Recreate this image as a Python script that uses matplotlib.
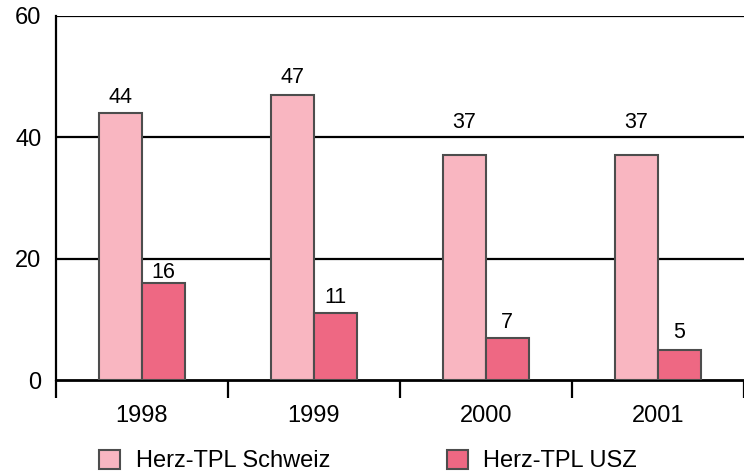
import numpy as np
import matplotlib.pyplot as plt
from matplotlib.patches import Patch

years = ['1998', '1999', '2000', '2001']
schweiz = [44, 47, 37, 37]
usz = [16, 11, 7, 5]
series_names = ['Herz-TPL Schweiz', 'Herz-TPL USZ']
# where the value labels sit (data units)
schweiz_label_y = [46.6, 49.8, 42.4, 42.4]
usz_label_y = [17.8, 13.7, 9.5, 7.8]

col_schweiz = '#F9B6C1'
col_usz = '#EE6883'
edge = '#4D4D4D'

plt.rcParams['font.family'] = ['Liberation Sans', 'DejaVu Sans']

fig = plt.figure(figsize=(7.44, 4.73), dpi=100)
ax = fig.add_axes([55.5 / 744, 1 - 380.3 / 473, 1 - 55.5 / 744, (380.3 - 15.7) / 473])

x = np.arange(len(years))
w = 0.25
ax.bar(x - w / 2, schweiz, w, color=col_schweiz, edgecolor=edge, linewidth=1.5, zorder=3)
ax.bar(x + w / 2, usz, w, color=col_usz, edgecolor=edge, linewidth=1.5, zorder=3)

for i in range(len(years)):
    ax.text(x[i] - w / 2, schweiz_label_y[i], str(schweiz[i]), ha='center', va='center', fontsize=15.5)
    ax.text(x[i] + w / 2, usz_label_y[i], str(usz[i]), ha='center', va='center', fontsize=15.5)

ax.set_ylim(0, 60)
ax.set_xlim(-0.5, 3.457)
ax.set_yticks([0, 20, 40, 60])
ax.tick_params(axis='y', length=0, labelsize=17, pad=10)
for yv in [20, 40, 60]:
    ax.axhline(yv, color='black', linewidth=1.6, zorder=1)

# year labels between ticks at group boundaries
ax.set_xticks(np.arange(-0.5, 4, 1.0))
ax.set_xticklabels([])
ax.set_xticks(x, minor=True)
ax.set_xticklabels(years, minor=True)
ax.tick_params(axis='x', which='major', length=13, width=1.6, direction='out')
ax.tick_params(axis='x', which='minor', length=0, labelsize=17, pad=18)

ax.spines['top'].set_visible(False)
ax.spines['right'].set_visible(False)
ax.spines['left'].set_linewidth(1.6)
ax.spines['bottom'].set_linewidth(2)

handles = [Patch(facecolor=col_schweiz, edgecolor=edge, linewidth=1.5),
           Patch(facecolor=col_usz, edgecolor=edge, linewidth=1.5)]
fig.legend(handles, series_names, loc='center left', bbox_to_anchor=(99 / 744, 1 - 461 / 473),
           ncol=2, frameon=False, fontsize=17, handlelength=0.9, handleheight=0.9,
           handletextpad=0.65, columnspacing=4.95, borderpad=0, borderaxespad=0)

fig.savefig('out.png', dpi=100)
